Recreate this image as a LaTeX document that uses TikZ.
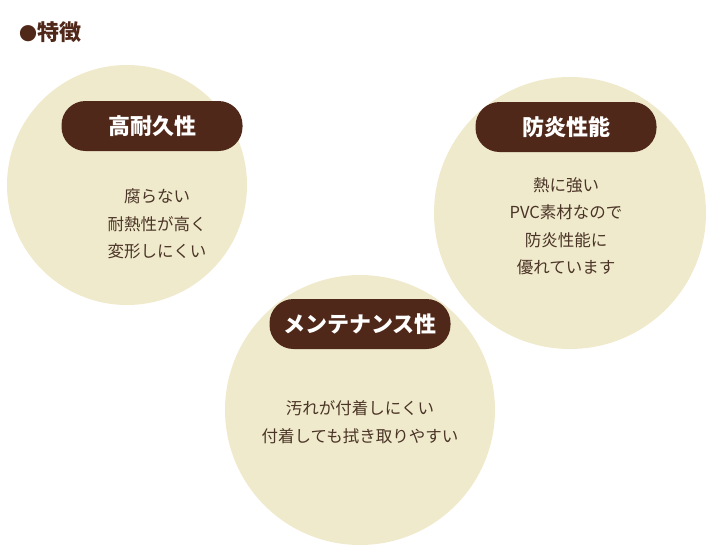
\documentclass[tikz,border=0pt]{standalone}
\usepackage{fontspec}
\newfontfamily\cjk{Noto Sans CJK JP}
\definecolor{beige}{HTML}{F0EACD}
\definecolor{brown}{HTML}{50281A}
\definecolor{txt}{HTML}{4A3426}
\begin{document}
\begin{tikzpicture}[x=1pt,y=-1pt,
  circ/.style={fill=beige,draw=none},
  pill/.style={fill=brown,rounded corners=24pt,minimum width=181pt,minimum height=50pt,text=white,font=\cjk\bfseries\fontsize{22}{24}\selectfont},
  body/.style={text=txt,align=center,font=\cjk\fontsize{16.5}{27.5}\selectfont}]
\useasboundingbox (0,0) rectangle (720,557);
\node[anchor=west,text=brown,font=\cjk\bfseries\fontsize{22}{24}\selectfont] (title) at (16,32) {{\fontsize{18}{20}\selectfont●}特徴};
\fill[circ] (127,185) circle (120);
\fill[circ] (570,213) circle (136);
\fill[circ] (360,410) circle (135);
\node[pill] (p1) at (152,126) {高耐久性};
\node[pill] (p2) at (566,127) {防炎性能};
\node[pill] (p3) at (360,324) {メンテナンス性};
\node[body] (b1) at (157,224) {腐らない\\耐熱性が高く\\変形しにくい};
\node[body] (b2) at (566,226) {熱に強い\\PVC素材なので\\防炎性能に\\優れています};
\node[body] (b3) at (360,422) {汚れが付着しにくい\\付着しても拭き取りやすい};
\end{tikzpicture}
\end{document}
